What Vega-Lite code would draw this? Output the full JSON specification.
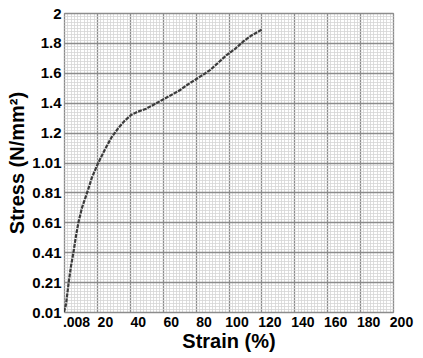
{
  "$schema": "https://vega.github.io/schema/vega-lite/v6.json",
  "width": 329,
  "height": 299,
  "autosize": "none",
  "padding": {"left": 64, "top": 13, "right": 30, "bottom": 46},
  "background": "white",
  "config": {
    "view": {"stroke": "#8c8c8c", "strokeWidth": 1},
    "axis": {"labelFont": "Liberation Sans", "titleFont": "Liberation Sans", "labelColor": "#000", "titleColor": "#000", "labelFontWeight": "bold", "titleFontWeight": "bold"}
  },
  "data": {
    "values": [
      {"strain": 0, "stress": 0.0},
      {"strain": 1.2, "stress": 0.05},
      {"strain": 3, "stress": 0.21},
      {"strain": 4.3, "stress": 0.31},
      {"strain": 5.9, "stress": 0.41},
      {"strain": 7.3, "stress": 0.51},
      {"strain": 8.8, "stress": 0.6},
      {"strain": 11, "stress": 0.7},
      {"strain": 13.8, "stress": 0.79},
      {"strain": 17, "stress": 0.9},
      {"strain": 20.5, "stress": 0.99},
      {"strain": 25, "stress": 1.09},
      {"strain": 29, "stress": 1.17},
      {"strain": 33, "stress": 1.23},
      {"strain": 37, "stress": 1.28},
      {"strain": 41, "stress": 1.32},
      {"strain": 45, "stress": 1.34},
      {"strain": 50, "stress": 1.36},
      {"strain": 55, "stress": 1.39},
      {"strain": 60, "stress": 1.42},
      {"strain": 65, "stress": 1.45},
      {"strain": 70.6, "stress": 1.485},
      {"strain": 75, "stress": 1.52},
      {"strain": 80.7, "stress": 1.56},
      {"strain": 85, "stress": 1.59},
      {"strain": 89, "stress": 1.62},
      {"strain": 94, "stress": 1.67},
      {"strain": 99, "stress": 1.72},
      {"strain": 104, "stress": 1.76},
      {"strain": 109, "stress": 1.81},
      {"strain": 114, "stress": 1.85},
      {"strain": 120.5, "stress": 1.89}
    ]
  },
  "mark": {"type": "line", "color": "#3c3c3c", "strokeWidth": 2.2, "strokeDash": [4, 1], "clip": true},
  "encoding": {
    "x": {
      "field": "strain", "type": "quantitative",
      "scale": {"domain": [0, 200], "nice": false, "zero": false},
      "axis": {
        "title": "Strain (%)", "titleFontSize": 20, "titlePadding": 2,
        "tickCount": 100, "ticks": false, "domain": false,
        "labelFontSize": 14, "labelPadding": 3, "labelOverlap": false, "labelFlush": false, "labelBound": false,
        "labelOffset": {"condition": {"test": "datum.value === 0", "value": 12}, "value": 8},
        "labelExpr": "datum.value === 0 ? '.008' : (datum.value % 20 === 0 ? datum.label : '')",
        "grid": true,
        "gridColor": {"condition": {"test": "datum.value % 20 === 0", "value": "#8c8c8c"}, "value": "#d6d6d6"},
        "gridWidth": {"condition": {"test": "datum.value % 20 === 0", "value": 1.3}, "value": 0.8}
      }
    },
    "y": {
      "field": "stress", "type": "quantitative",
      "scale": {"domain": [0, 2], "nice": false, "zero": false},
      "axis": {
        "title": "Stress (N/mm²)", "titleFontSize": 20, "titlePadding": 4,
        "tickCount": 100, "ticks": false, "domain": false,
        "labelFontSize": 15, "labelPadding": 3, "labelOverlap": false, "labelFlush": false, "labelBound": false,
        "labelExpr": "abs(datum.value*5 - round(datum.value*5)) > 0.000001 ? '' : (datum.value < 1.1 ? format(datum.value + 0.01, '.2f') : format(datum.value, '.1~f'))",
        "grid": true,
        "gridColor": {"condition": {"test": "abs(datum.value*5 - round(datum.value*5)) < 0.000001", "value": "#8c8c8c"}, "value": "#d6d6d6"},
        "gridWidth": {"condition": {"test": "abs(datum.value*5 - round(datum.value*5)) < 0.000001", "value": 1.3}, "value": 0.8}
      }
    }
  }
}
